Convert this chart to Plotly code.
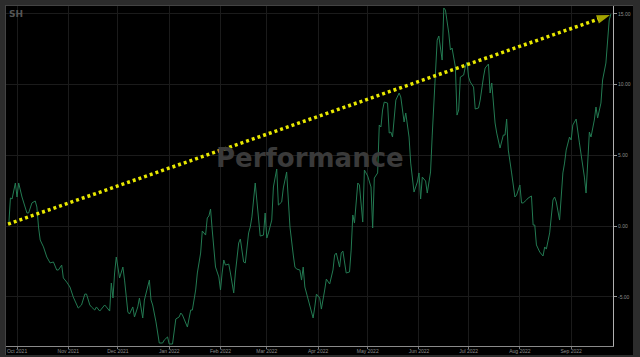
import pandas as pd
import plotly.graph_objects as go

# ---- data ----
start_date = "2021-10-01"
day_offsets = [-5, -4, -3, -1, 0, 1, 3, 4, 6, 7, 9, 11, 12, 13, 14, 16, 18, 20, 22, 24, 25, 27, 28, 30,
               32, 34, 36, 37, 39, 41, 42, 44, 45, 47, 48, 50, 51, 53, 54, 56, 57, 58, 59, 60, 62, 64,
               65, 67, 68, 70, 71, 73, 74, 76, 77, 80, 81, 82, 84, 86, 88, 89, 91, 92, 94, 96, 98, 99,
               100, 102, 103, 105, 106, 108, 109, 111, 112, 114, 115, 116, 117, 118, 120, 122, 123, 124,
               125, 126, 128, 129, 131, 132, 134, 135, 137, 138, 140, 141, 142, 144, 145, 147, 149, 150,
               151, 152, 154, 155, 157, 158, 160, 161, 163, 164, 165, 167, 168, 169, 171, 172, 173, 174,
               176, 179, 180, 181, 183, 184, 186, 187, 189, 191, 192, 193, 195, 196, 197, 199, 201, 202,
               203, 204, 206, 207, 209, 210, 212, 214, 215, 216, 218, 219, 220, 221, 222, 224, 225, 226,
               227, 229, 231, 232, 234, 235, 237, 238, 240, 242, 243, 244, 245, 247, 248, 250, 251, 253,
               254, 255, 256, 257, 258, 259, 261, 262, 263, 265, 266, 267, 268, 270, 271, 272, 273, 274,
               276, 277, 279, 280, 282, 283, 285, 286, 287, 289, 290, 292, 294, 295, 296, 297, 299, 301,
               302, 304, 305, 306, 308, 309, 311, 312, 313, 314, 316, 318, 319, 320, 322, 324, 325, 326,
               328, 330, 331, 332, 334, 335, 336, 338, 340, 341, 343, 344, 346, 347, 349, 350, 351, 353,
               354, 356, 357, 358, 359]
performance = [0.07, 1.98, 1.91, 3.04, 2.05, 3.04, 2.05, 1.63, 0.92, 0.92, 1.63, 1.77, 1.34, -0.07, -0.99,
               -1.48, -2.19, -2.61, -2.54, -3.11, -3.11, -2.76, -3.67, -3.96, -4.31, -5.02, -5.58, -5.80,
               -5.58, -4.81, -4.81, -5.58, -5.72, -5.94, -5.72, -6.01, -5.87, -5.58, -5.72, -6.01, -4.03,
               -5.09, -3.32, -2.19, -3.67, -2.90, -3.82, -6.08, -6.22, -5.72, -6.43, -5.72, -5.09, -6.50,
               -5.23, -3.82, -5.23, -5.58, -6.78, -8.27, -8.27, -8.06, -7.84, -8.34, -8.34, -6.57, -6.43,
               -6.15, -6.29, -6.85, -7.14, -5.94, -5.94, -4.52, -3.32, -1.91, -0.35, -0.64, 0.57, 0.71,
               1.20, -0.28, -2.90, -3.60, -4.52, -3.32, -2.40, -2.76, -2.69, -3.32, -4.73, -3.32, -1.20,
               -0.92, -2.54, -2.61, -0.49, -0.07, 0.64, 3.04, 1.63, -0.71, -0.64, 0.92, -0.85, -0.49, 0.42,
               2.76, 4.03, 1.48, 1.70, 2.69, 3.82, 1.84, -0.07, -2.05, -2.90, -3.04, -3.11, -3.82, -2.90,
               -4.31, -5.23, -6.50, -5.72, -4.81, -5.09, -5.87, -4.52, -3.75, -4.10, -3.11, -2.05, -1.91,
               -2.90, -1.91, -1.77, -3.32, -3.25, -1.70, 0.78, 0.21, 3.04, 2.90, 0.28, 3.96, 3.53, 2.76,
               -0.14, 3.39, 3.75, 7.14, 7.00, 8.20, 8.76, 8.69, 6.57, 6.64, 6.29, 8.90, 9.40, 9.12, 7.35,
               7.99, 6.29, 4.45, 2.40, 3.11, 3.75, 1.91, 3.46, 3.18, 2.33, 3.82, 6.43, 10.32, 13.14, 13.43,
               12.65, 11.73, 15.41, 15.26, 13.64, 12.44, 12.58, 11.24, 7.84, 8.20, 10.53, 10.67, 11.24,
               11.59, 10.53, 10.18, 9.82, 8.27, 8.34, 8.90, 10.53, 11.17, 11.45, 9.40, 10.11, 7.28, 6.57,
               5.51, 6.43, 6.43, 7.56, 5.37, 3.75, 2.05, 2.19, 2.90, 1.63, 1.63, 1.84, 1.98, 2.12, 0.07,
               0.07, -1.34, -1.84, -2.12, -1.48, -1.63, -0.49, 1.84, 2.05, 1.70, 0.42, 3.75, 4.45, 5.37,
               6.29, 6.08, 7.14, 7.56, 5.87, 5.16, 3.46, 2.33, 6.64, 6.29, 7.49, 8.41, 7.63, 8.69, 10.32,
               11.52, 13.36, 14.56, 14.98]
trend_dates = ["2021-09-25 14:00", "2022-09-24 12:00"]
trend_values = [0.14, 14.91]
y_ticks = [-5, 0, 5, 10, 15]
y_tick_labels = ["-5.00", "0.00", "5.00", "10.00", "15.00"]
symbol_label = "SH"
watermark = "Performance"

dates = pd.Timestamp(start_date) + pd.to_timedelta(day_offsets, unit="D")

W, H = 640, 357
L, R, T, B = 6, 27, 6, 11
PW, PH = W - L - R, H - T - B


def px_x(p):
    return (p - L) / PW


def px_y(p):
    return (H - B - p) / PH


frame = "#2c2c2c"
frame_shapes = [
    dict(type="rect", xref="paper", yref="paper", x0=px_x(0), x1=px_x(5), y0=px_y(357), y1=px_y(0),
         fillcolor=frame, line=dict(width=0), layer="above"),
    dict(type="rect", xref="paper", yref="paper", x0=px_x(0), x1=px_x(640), y0=px_y(5), y1=px_y(0),
         fillcolor=frame, line=dict(width=0), layer="above"),
    dict(type="rect", xref="paper", yref="paper", x0=px_x(633), x1=px_x(640), y0=px_y(357), y1=px_y(0),
         fillcolor=frame, line=dict(width=0), layer="above"),
    dict(type="rect", xref="paper", yref="paper", x0=px_x(0), x1=px_x(640), y0=px_y(357), y1=px_y(355),
         fillcolor=frame, line=dict(width=0), layer="above"),
    dict(type="line", xref="paper", yref="paper", x0=px_x(5), x1=px_x(633), y0=px_y(5.5), y1=px_y(5.5),
         line=dict(width=1, color="#444444"), layer="above"),
    dict(type="line", xref="paper", yref="paper", x0=px_x(5.5), x1=px_x(5.5), y0=px_y(355), y1=px_y(5),
         line=dict(width=1, color="#444444"), layer="above"),
]

fig = go.Figure()
fig.add_trace(go.Scatter(
    x=dates, y=performance, mode="lines",
    line=dict(color="#237a52", width=1),
    hoverinfo="skip", showlegend=False,
))
fig.add_trace(go.Scatter(
    x=pd.to_datetime(trend_dates), y=trend_values, mode="lines+markers",
    line=dict(color="#e8e800", width=3.5, dash="3px,3px"),
    marker=dict(symbol="arrow", size=[0, 14], color="#e8e800", angleref="previous",
                line=dict(width=0)),
    hoverinfo="skip", showlegend=False,
))

tick_font = dict(family="Liberation Sans, Arial, sans-serif", size=5, color="#8c8c8c")

fig.update_layout(
    width=W, height=H,
    margin=dict(l=L, r=R, t=T, b=B, autoexpand=False),
    paper_bgcolor="#000000",
    plot_bgcolor="#000000",
    showlegend=False,
    shapes=frame_shapes,
    annotations=[
        dict(text=symbol_label, xref="paper", yref="paper", x=px_x(7), y=px_y(7),
             xanchor="left", yanchor="top", showarrow=False,
             font=dict(family="DejaVu Sans", size=9, color="#555555", weight="bold")),
        dict(text=watermark, xref="paper", yref="paper", x=px_x(310), y=px_y(158),
             xanchor="center", yanchor="middle", showarrow=False,
             font=dict(family="DejaVu Sans", size=26, color="#3a3a3a", weight="bold")),
    ],
)
fig.update_xaxes(
    range=["2021-09-24 08:00", "2022-09-26 07:00"],
    tickformat="%b %Y", dtick="M1", tick0="2021-10-01",
    showgrid=True, gridcolor="#1b1b1b", gridwidth=1,
    showline=True, linecolor="#8a8a8a", linewidth=1,
    ticks="outside", ticklen=2, tickcolor="#777777",
    ticklabelstandoff=-2,
    tickfont=tick_font,
    zeroline=False, fixedrange=True, automargin=False,
)
fig.update_yaxes(
    side="right", range=[-8.48, 15.55],
    tickvals=y_ticks, ticktext=y_tick_labels,
    showgrid=True, gridcolor="#1b1b1b", gridwidth=1,
    showline=True, linecolor="#b0b0b0", linewidth=1,
    ticks="outside", ticklen=3, tickcolor="#999999",
    tickfont=tick_font,
    zeroline=False, fixedrange=True, automargin=False,
)

fig.write_html("out.html")
